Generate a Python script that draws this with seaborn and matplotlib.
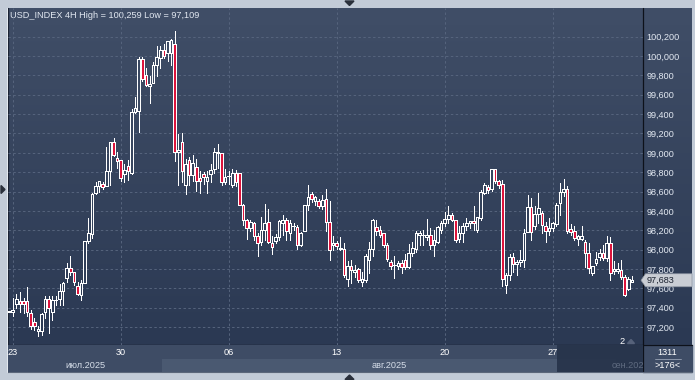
"""USD_INDEX 4H candlestick chart in a dark trading-terminal style."""

import numpy as np
import pandas as pd
import matplotlib
matplotlib.use("Agg")
import matplotlib.pyplot as plt
from matplotlib.colors import LinearSegmentedColormap
from matplotlib.patches import Polygon, Rectangle
import seaborn as sns

# ---------------------------------------------------------------------------
# Data (one 4H bar per entry)
# ---------------------------------------------------------------------------
OPENS = [
    97.36, 97.35, 97.44, 97.47, 97.47, 97.47, 97.34, 97.25, 97.16, 97.16,
    97.36, 97.49, 97.36, 97.48, 97.49, 97.57, 97.71, 97.81, 97.77, 97.62,
    97.53, 97.65, 98.09, 98.16, 98.58, 98.66, 98.68, 98.66, 98.81, 99.11,
    98.95, 98.93, 98.78, 98.86, 98.79, 99.42, 99.43, 99.965, 99.80, 99.69,
    99.72, 99.91, 99.98, 100.06, 100.03, 100.03, 100.13, 99.01, 99.11, 98.67,
    98.93, 98.77, 98.85, 98.74, 98.78, 98.71, 98.78, 98.83, 99.00, 99.00,
    98.70, 98.76, 98.67, 98.79, 98.79, 98.46, 98.31, 98.22, 98.27, 98.14,
    98.08, 98.20, 98.29, 98.07, 98.09, 98.13, 98.27, 98.31, 98.17, 98.24,
    98.23, 98.05, 98.19, 98.46, 98.57, 98.50, 98.50, 98.45, 98.52, 98.29,
    98.05, 98.07, 98.01, 98.01, 97.70, 97.83, 97.77, 97.80, 97.67, 97.69,
    97.89, 98.01, 98.23, 98.20, 98.17, 98.05, 97.87, 97.84, 97.83, 97.86,
    97.89, 97.82, 97.96, 98.01, 98.15, 98.15, 98.13, 98.15, 98.05, 98.08,
    98.20, 98.27, 98.32, 98.36, 98.31, 98.11, 98.17, 98.24, 98.27, 98.30,
    98.20, 98.33, 98.58, 98.65, 98.63, 98.83, 98.71, 98.68, 97.63, 97.74,
    97.92, 97.85, 97.87, 97.89, 98.18, 98.44, 98.24, 98.37, 98.38, 98.24,
    98.19, 98.22, 98.26, 98.48, 98.60, 98.63, 98.21, 98.19, 98.11, 98.11,
    98.08, 97.96, 97.76, 97.86, 97.92, 97.96, 97.91, 98.07, 97.78, 97.78,
    97.79, 97.72, 97.59, 97.67,
]
HIGHS = [
    97.37, 97.50, 97.54, 97.56, 97.50, 97.61, 97.38, 97.29, 97.21, 97.34,
    97.52, 97.52, 97.52, 97.52, 97.64, 97.66, 97.86, 97.93, 97.77, 97.66,
    97.69, 98.09, 98.33, 98.58, 98.70, 98.71, 98.70, 99.06, 99.11, 99.15,
    99.01, 98.93, 98.88, 98.93, 99.45, 99.58, 99.99, 99.99, 99.88, 99.79,
    99.94, 100.10, 100.10, 100.12, 100.155, 100.18, 100.259, 99.19, 99.20, 98.94,
    98.96, 98.98, 98.94, 98.81, 98.80, 98.81, 98.88, 99.05, 99.09, 99.00,
    98.83, 98.81, 98.83, 98.82, 98.79, 98.47, 98.32, 98.31, 98.29, 98.17,
    98.34, 98.47, 98.42, 98.14, 98.16, 98.31, 98.36, 98.33, 98.31, 98.27,
    98.25, 98.18, 98.46, 98.67, 98.60, 98.55, 98.52, 98.56, 98.63, 98.50,
    98.14, 98.09, 98.13, 98.07, 97.88, 97.89, 97.84, 97.81, 97.77, 97.95,
    98.08, 98.32, 98.31, 98.24, 98.17, 98.07, 97.89, 97.93, 97.88, 97.89,
    97.95, 98.06, 98.08, 98.19, 98.19, 98.20, 98.32, 98.22, 98.20, 98.24,
    98.30, 98.39, 98.45, 98.38, 98.31, 98.24, 98.27, 98.33, 98.30, 98.45,
    98.34, 98.62, 98.69, 98.67, 98.83, 98.83, 98.72, 98.72, 97.76, 97.95,
    97.96, 97.89, 98.00, 98.21, 98.56, 98.53, 98.45, 98.58, 98.40, 98.29,
    98.33, 98.29, 98.48, 98.69, 98.73, 98.66, 98.26, 98.24, 98.15, 98.24,
    98.10, 98.07, 97.83, 97.98, 98.01, 98.05, 98.14, 98.13, 97.88, 97.86,
    97.89, 97.74, 97.72, 97.73,
]
LOWS = [
    97.35, 97.31, 97.40, 97.35, 97.34, 97.31, 97.18, 97.17, 97.109, 97.12,
    97.29, 97.14, 97.27, 97.43, 97.43, 97.43, 97.66, 97.74, 97.63, 97.53,
    97.48, 97.65, 98.07, 98.12, 98.57, 98.60, 98.63, 98.66, 98.67, 98.97,
    98.84, 98.71, 98.70, 98.72, 98.78, 99.41, 99.22, 99.74, 99.69, 99.52,
    99.72, 99.79, 99.88, 99.98, 99.95, 99.91, 98.92, 98.67, 98.70, 98.57,
    98.67, 98.71, 98.61, 98.58, 98.68, 98.58, 98.70, 98.79, 98.84, 98.67,
    98.68, 98.68, 98.65, 98.66, 98.46, 98.25, 98.11, 98.19, 98.10, 97.93,
    98.05, 98.10, 98.07, 97.95, 98.07, 98.10, 98.15, 98.10, 98.10, 98.20,
    98.01, 98.04, 98.19, 98.41, 98.49, 98.46, 98.43, 98.42, 98.19, 97.89,
    98.00, 98.01, 98.00, 97.72, 97.62, 97.65, 97.72, 97.67, 97.62, 97.67,
    97.76, 97.93, 98.15, 98.13, 98.03, 97.88, 97.80, 97.71, 97.80, 97.76,
    97.80, 97.81, 97.93, 97.98, 98.05, 98.05, 98.10, 98.01, 97.93, 98.07,
    98.17, 98.24, 98.27, 98.30, 98.08, 98.08, 98.08, 98.20, 98.22, 98.20,
    98.18, 98.31, 98.57, 98.58, 98.61, 98.69, 98.64, 97.62, 97.55, 97.69,
    97.77, 97.74, 97.83, 97.82, 98.18, 98.10, 98.21, 98.27, 98.17, 98.08,
    98.15, 98.19, 98.24, 98.36, 98.55, 98.17, 98.15, 98.10, 98.05, 98.10,
    97.82, 97.76, 97.74, 97.84, 97.89, 97.89, 97.88, 97.69, 97.75, 97.76,
    97.70, 97.52, 97.58, 97.665,
]
CLOSES = [
    97.36, 97.38, 97.49, 97.44, 97.44, 97.36, 97.21, 97.21, 97.18, 97.33,
    97.49, 97.40, 97.48, 97.48, 97.57, 97.65, 97.81, 97.77, 97.66, 97.54,
    97.65, 98.09, 98.17, 98.57, 98.66, 98.71, 98.65, 98.81, 99.11, 98.98,
    98.92, 98.74, 98.82, 98.81, 99.42, 99.46, 99.965, 99.76, 99.70, 99.71,
    99.91, 99.99, 100.06, 100.00, 100.155, 100.17, 99.01, 99.03, 98.81, 98.88,
    98.77, 98.90, 98.71, 98.71, 98.75, 98.75, 98.82, 99.01, 99.01, 98.70,
    98.75, 98.76, 98.79, 98.70, 98.46, 98.31, 98.22, 98.29, 98.14, 98.07,
    98.20, 98.27, 98.08, 98.03, 98.13, 98.30, 98.31, 98.19, 98.27, 98.24,
    98.05, 98.17, 98.46, 98.54, 98.52, 98.54, 98.45, 98.51, 98.29, 98.00,
    98.07, 98.04, 98.01, 97.74, 97.83, 97.79, 97.79, 97.69, 97.70, 97.93,
    98.01, 98.31, 98.19, 98.15, 98.05, 97.90, 97.83, 97.84, 97.86, 97.82,
    97.82, 97.97, 98.02, 98.17, 98.17, 98.15, 98.15, 98.05, 98.10, 98.23,
    98.28, 98.32, 98.36, 98.31, 98.10, 98.17, 98.24, 98.28, 98.30, 98.27,
    98.34, 98.60, 98.67, 98.62, 98.83, 98.71, 98.67, 97.70, 97.74, 97.92,
    97.85, 97.87, 97.89, 98.17, 98.44, 98.18, 98.37, 98.43, 98.25, 98.19,
    98.22, 98.28, 98.46, 98.60, 98.63, 98.19, 98.18, 98.12, 98.14, 98.14,
    97.97, 97.81, 97.83, 97.90, 97.96, 97.91, 98.07, 97.76, 97.80, 97.80,
    97.72, 97.53, 97.70, 97.683,
]

WEEK_TICKS = [1, 31, 61, 91, 121, 151]          # first bar of each week
WEEK_LABELS = ["23", "30", "06", "13", "20", "27"]
PRICE_TICKS = [97.2, 97.4, 97.6, 97.8, 98.0, 98.2, 98.4, 98.6,
               98.8, 99.0, 99.2, 99.4, 99.6, 99.8, 100.0, 100.2]
MONTH_LABELS = ["июл.2025", "авг.2025", "сен.2025"]
MONTH_STARTS = [42.5, 168.5]                     # bar index where Aug / Sep begin
TITLE = "USD_INDEX 4H High = 100,259 Low = 97,109"
LAST_PRICE = 97.683
BAR_COUNT = "1311"
VISIBLE_BARS = ">176<"
MARKER_TEXT = "2"

# ---------------------------------------------------------------------------
# Look
# ---------------------------------------------------------------------------
W, H = 695, 380
FRAME = "#c2cbd7"
BG_TOP = "#404e67"
BG_BOTTOM = "#2b3953"
GRID = "#56647d"
BEAR = "#dc143c"
TEXT = "#e2e8f1"
ROW = "#3e4c65"
AUG_BAND = "#4a5971"
SHADE = "#27334a"
DARK_LINE = "#0d111a"
XLIM = (-0.31, 176.08)
YLIM = (97.014, 100.497)
FS = 6.6


def px_box(x0, y0, x1, y1):
    """Axes rectangle from pixel corners (origin top-left)."""
    return [x0 / W, 1 - y1 / H, (x1 - x0) / W, (y1 - y0) / H]


def fmt_price(v):
    return f"{v:.3f}".replace(".", ",")


df = pd.DataFrame({"open": OPENS, "high": HIGHS, "low": LOWS, "close": CLOSES})
df["bar"] = np.arange(len(df))

sns.set_theme(style="dark", rc={"axes.facecolor": "none", "figure.facecolor": FRAME})
plt.rcParams["font.family"] = ["Liberation Sans", "DejaVu Sans"]

fig = plt.figure(figsize=(W / 100, H / 100), dpi=100)
fig.patch.set_facecolor(FRAME)

# --- background layer in pixel coordinates --------------------------------
bg_cmap = LinearSegmentedColormap.from_list("terminal", [BG_TOP, BG_BOTTOM])
bg = fig.add_axes([0, 0, 1, 1])
bg.imshow(np.linspace(0, 1, 256).reshape(-1, 1), cmap=bg_cmap,
          extent=(8, 692, 345, 8), aspect="auto", interpolation="bilinear", zorder=0)
bg.set_xlim(0, W)
bg.set_ylim(H, 0)
bg.axis("off")

bg.add_patch(Rectangle((643, 345), 49, 27, color=ROW, zorder=1))
bg.plot([8, 692], [345, 345], color=DARK_LINE, lw=0.9, zorder=2)
bg.plot([643, 643], [8, 372], color=DARK_LINE, lw=0.9, zorder=2)
bg.plot([8, 8], [8, 372], color="#1b2334", lw=0.9, zorder=2)
bg.plot([6.5, 6.5], [8, 372], color="#eef2f7", lw=0.6, zorder=2)
bg.plot([8, 692], [372, 372], color="#5b677a", lw=0.8, zorder=2)

# small navigation arrows on the frame
for pts in ([[345, 1], [354, 1], [349.5, 5.5]],
            [[345, 379.5], [354, 379.5], [349.5, 375]],
            [[1, 185.5], [1, 193.5], [5, 189.5]]):
    bg.add_patch(Polygon(pts, closed=True, color="#2a303b", zorder=2))

bg.text(10, 15, TITLE, color=TEXT, fontsize=6.6, va="center", ha="left", zorder=3)
bg.text(667.5, 352.5, BAR_COUNT, color="white", fontsize=FS, ha="center", va="center", zorder=3)
bg.plot([655, 681], [358.8, 358.8], color="#98a3b5", lw=0.6, zorder=3)
bg.text(667.5, 365.5, VISIBLE_BARS, color="white", fontsize=FS, ha="center", va="center", zorder=3)
bg.text(622, 341, MARKER_TEXT, color="white", fontsize=FS, ha="center", va="center", zorder=3)
bg.add_patch(Polygon([[627.5, 343.5], [634.5, 343.5], [631, 339.5]], closed=True,
                     color="#56627a", zorder=3))

# --- price axes -------------------------------------------------------------
ax = fig.add_axes(px_box(8, 8, 643, 345))
ax.set_facecolor("none")
ax.set_xlim(*XLIM)
ax.set_ylim(*YLIM)
ax.set_xticks(WEEK_TICKS)
ax.set_yticks(PRICE_TICKS)
ax.grid(True, color=GRID, linestyle=(0, (2.5, 2.5)), linewidth=0.7)
ax.tick_params(axis="x", length=0, labelbottom=False)
ax.yaxis.tick_right()
ax.set_yticklabels([fmt_price(v) for v in PRICE_TICKS])
ax.tick_params(axis="y", length=0, pad=2.5, labelsize=FS, labelcolor=TEXT)
for spine in ax.spines.values():
    spine.set_visible(False)

bull = df["close"] >= df["open"]
mid = (df["open"] + df["close"]) / 2
depth = (YLIM[1] - mid) / (YLIM[1] - YLIM[0])
fills = [bg_cmap(d) if b else BEAR for b, d in zip(bull, depth)]
body_low = np.minimum(df["open"], df["close"])
body_h = np.maximum((df["close"] - df["open"]).abs(), 0.004)

ax.vlines(df["bar"], df["low"], df["high"], color="white", lw=0.7,
          antialiased=False, zorder=3)
ax.bar(df["bar"], body_h, bottom=body_low, width=0.72, color=fills,
       edgecolor="white", linewidth=0.7, antialiased=False, zorder=4)

# last-price tag on the right scale
px_per_unit = 337 / (YLIM[1] - YLIM[0])
half = 6.5 / px_per_unit
tr = ax.get_yaxis_transform()
tag = Polygon([[1 - 2 / 635, LAST_PRICE], [1 + 2.5 / 635, LAST_PRICE + half],
               [1 + 49 / 635, LAST_PRICE + half], [1 + 49 / 635, LAST_PRICE - half],
               [1 + 2.5 / 635, LAST_PRICE - half]], closed=True, transform=tr,
              facecolor="#c9cdd4", edgecolor="#8d95a2", lw=0.5, clip_on=False, zorder=10)
ax.add_patch(tag)
ax.text(1 + 4 / 635, LAST_PRICE, fmt_price(LAST_PRICE), transform=tr, ha="left",
        va="center", fontsize=FS, color="#1b2230", clip_on=False, zorder=11)

# --- date strip -------------------------------------------------------------
dax = fig.add_axes(px_box(8, 345, 643, 372))
dax.set_xlim(*XLIM)
dax.set_ylim(0, 1)
dax.axis("off")
dax.axvspan(XLIM[0], XLIM[1], 0.5, 1, color=ROW, lw=0)
dax.axvspan(XLIM[0], MONTH_STARTS[0], 0, 0.5, color=ROW, lw=0)
dax.axvspan(MONTH_STARTS[0], MONTH_STARTS[1], 0, 0.5, color=AUG_BAND, lw=0)
dax.axvspan(MONTH_STARTS[1], XLIM[1], 0, 0.5, color=ROW, lw=0)
dax.axvspan(152.2, XLIM[1], 0, 1, color=SHADE, alpha=0.92, lw=0, zorder=3)

month_centres = [(XLIM[0] + MONTH_STARTS[0]) / 2, sum(MONTH_STARTS) / 2, 172.6]
month_colours = ["#d6dee9", "#d6dee9", "#5f6b80"]
for label, xc, col in zip(MONTH_LABELS, month_centres, month_colours):
    dax.text(xc, 0.24, label, ha="center", va="center", fontsize=FS, color=col,
             clip_on=True, zorder=4)
for xb, label in zip(WEEK_TICKS, WEEK_LABELS):
    dax.text(xb, 0.74, label, ha="center", va="center", fontsize=FS, color="white", zorder=5)

fig.savefig("out.png", dpi=100, facecolor=fig.get_facecolor())
plt.close(fig)
